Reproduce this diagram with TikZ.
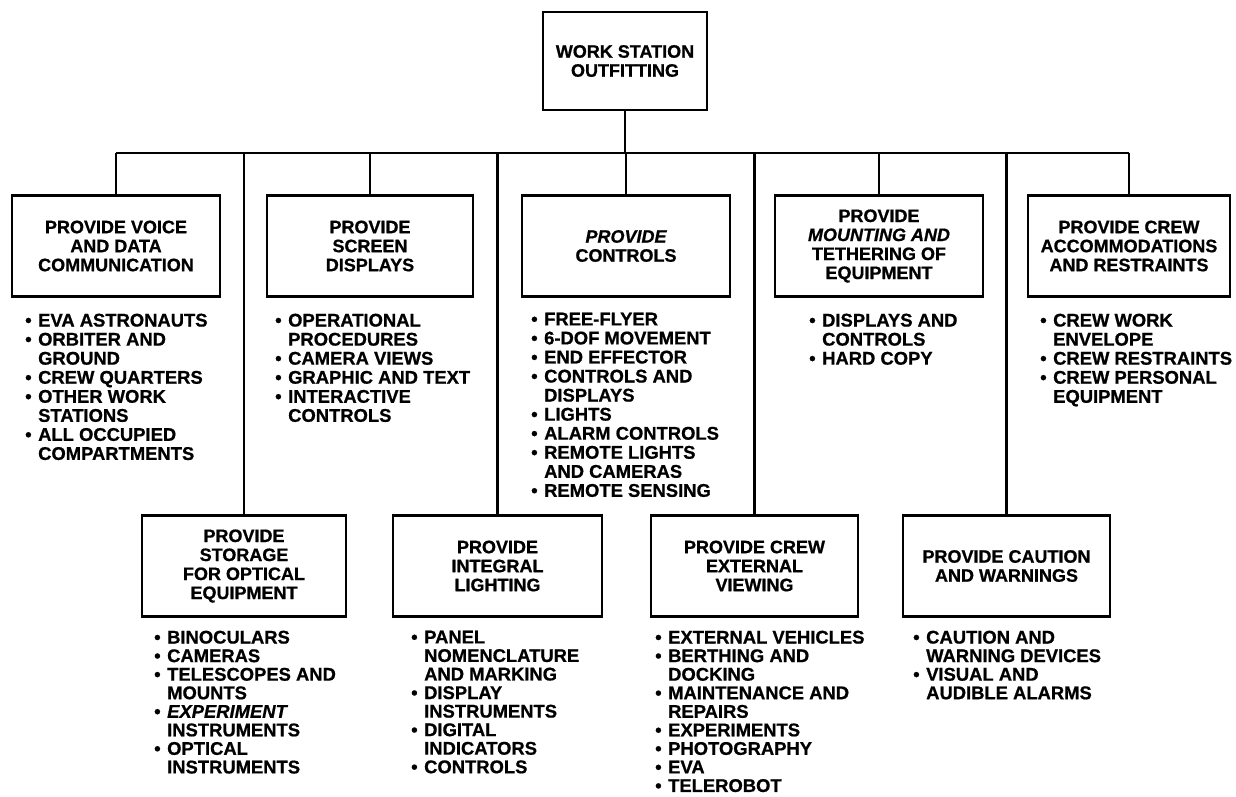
\documentclass[tikz,border=0pt]{standalone}
\usepackage{fontspec}
\setmainfont{Liberation Sans}[BoldFeatures={FakeBold=0.8},BoldItalicFeatures={FakeBold=0.8}]
\newcommand\bi{\makebox[13pt][l]{\textbullet}}
\newcommand\ct{\hspace*{13pt}}
\tikzset{
  txt/.style={font=\fontsize{18}{19}\selectfont\bfseries},
  boxnode/.style={txt, draw, line width=2.8pt, inner sep=0pt, align=center, minimum height=101pt},
  listnode/.style={font=\fontsize{18.4}{19.05}\selectfont\bfseries, anchor=north west, inner sep=0pt, align=left},
  lowlist/.style={listnode, font=\fontsize{18.4}{18.55}\selectfont\bfseries},
  conn/.style={line width=2.2pt}
}
\begin{document}
\begin{tikzpicture}[x=1pt,y=-1pt]
\path[use as bounding box] (0,0) rectangle (1236,796);
\coordinate (bus) at (0,153);
% top box
\node[boxnode, minimum width=164pt, minimum height=98pt] (top) at (625,61) {WORK STATION\\OUTFITTING};
% upper row
\node[boxnode, minimum width=208pt] (b1) at (116,246) {PROVIDE VOICE\\AND DATA\\COMMUNICATION};
\node[boxnode, minimum width=206pt] (b2) at (370,246) {PROVIDE\\SCREEN\\DISPLAYS};
\node[boxnode, minimum width=208pt] (b3) at (626,246) {{\itshape PROVIDE}\\CONTROLS};
\node[boxnode, minimum width=208pt] (b4) at (879,246) {PROVIDE\\{\itshape MOUNTING AND}\\TETHERING OF\\EQUIPMENT};
\node[boxnode, minimum width=202pt] (b5) at (1129,246) {PROVIDE CREW\\ACCOMMODATIONS\\AND RESTRAINTS};
% lower row
\node[boxnode, minimum width=204pt] (c1) at (244,566) {PROVIDE\\STORAGE\\FOR OPTICAL\\EQUIPMENT};
\node[boxnode, minimum width=209pt] (c2) at (497.5,566) {PROVIDE\\INTEGRAL\\LIGHTING};
\node[boxnode, minimum width=207pt] (c3) at (754.5,566) {PROVIDE CREW\\EXTERNAL\\VIEWING};
\node[boxnode, minimum width=207pt] (c4) at (1006.5,566) {PROVIDE CAUTION\\AND WARNINGS};
% connectors
\draw[conn] (top.south) -- (top.south |- bus);
\draw[conn] (b1.north |- bus) -- (b5.north |- bus);
\foreach \n in {b1,b2,b3,b4,b5,c1,c2,c3,c4}{
  \draw[conn] (\n.north) -- (\n.north |- bus);
}
% lists upper
\node[listnode] (l1) at (25,313.5) {\bi EVA ASTRONAUTS\\\bi ORBITER AND\\\ct GROUND\\\bi CREW QUARTERS\\\bi OTHER WORK\\\ct STATIONS\\\bi ALL OCCUPIED\\\ct COMPARTMENTS};
\node[listnode] (l2) at (275,313.5) {\bi OPERATIONAL\\\ct PROCEDURES\\\bi CAMERA VIEWS\\\bi GRAPHIC AND TEXT\\\bi INTERACTIVE\\\ct CONTROLS};
\node[listnode] (l3) at (531,312.5) {\bi FREE-FLYER\\\bi 6-DOF MOVEMENT\\\bi END EFFECTOR\\\bi CONTROLS AND\\\ct DISPLAYS\\\bi LIGHTS\\\bi ALARM CONTROLS\\\bi REMOTE LIGHTS\\\ct AND CAMERAS\\\bi REMOTE SENSING};
\node[listnode] (l4) at (809,313.5) {\bi DISPLAYS AND\\\ct CONTROLS\\\bi HARD COPY};
\node[listnode] (l5) at (1040,313.5) {\bi CREW WORK\\\ct ENVELOPE\\\bi CREW RESTRAINTS\\\bi CREW PERSONAL\\\ct EQUIPMENT};
% lists lower
\node[lowlist] (l6) at (154,630.5) {\bi BINOCULARS\\\bi CAMERAS\\\bi TELESCOPES AND\\\ct MOUNTS\\\bi {\itshape EXPERIMENT}\\\ct INSTRUMENTS\\\bi OPTICAL\\\ct INSTRUMENTS};
\node[lowlist] (l7) at (411,630.5) {\bi PANEL\\\ct NOMENCLATURE\\\ct AND MARKING\\\bi DISPLAY\\\ct INSTRUMENTS\\\bi DIGITAL\\\ct INDICATORS\\\bi CONTROLS};
\node[lowlist] (l8) at (655,630.5) {\bi EXTERNAL VEHICLES\\\bi BERTHING AND\\\ct DOCKING\\\bi MAINTENANCE AND\\\ct REPAIRS\\\bi EXPERIMENTS\\\bi PHOTOGRAPHY\\\bi EVA\\\bi TELEROBOT};
\node[lowlist] (l9) at (913,630.5) {\bi CAUTION AND\\\ct WARNING DEVICES\\\bi VISUAL AND\\\ct AUDIBLE ALARMS};
\end{tikzpicture}
\end{document}
